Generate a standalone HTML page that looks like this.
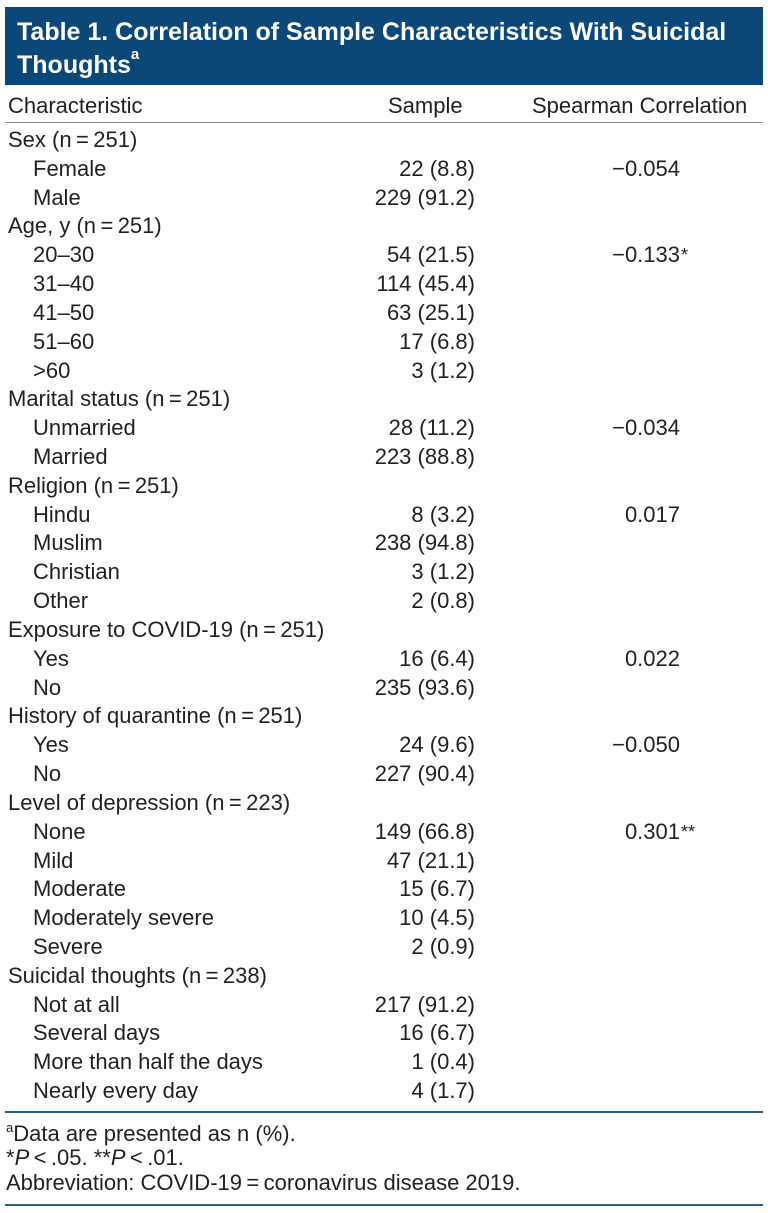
<!DOCTYPE html>
<html><head><meta charset="utf-8"><style>
body{margin:0;width:768px;height:1213px;background:#fff;position:relative;overflow:hidden;font-family:"Liberation Sans Narrow","Liberation Sans",sans-serif;color:#231f20;}
#hdr{position:absolute;left:5px;top:7px;width:758px;height:78px;background:#0b4877;}
#title{position:absolute;left:12px;top:9px;color:#fff;font-weight:bold;font-size:25px;line-height:33px;}
#title sup{font-size:15px;line-height:0;vertical-align:top;position:relative;top:6px}
.t{position:absolute;font-size:22px;line-height:24px;white-space:nowrap;}
.line{position:absolute;left:5px;width:758px;}
.fa{font-size:13px;line-height:0;vertical-align:baseline;position:relative;top:-9px}
</style></head><body>
<div id="hdr"><div id="title">Table 1. Correlation of Sample Characteristics With Suicidal<br>Thoughts<sup>a</sup></div></div>
<div class="t" style="left:8px;top:94px">Characteristic</div>
<div class="t" style="left:388px;top:94px">Sample</div>
<div class="t" style="left:532px;top:94px">Spearman Correlation</div>
<div class="line" style="top:122px;height:1px;background:#888"></div>
<div id="rows"></div>
<div class="line" style="top:1111px;height:2px;background:#2b5f8c"></div>
<div class="t" style="left:6px;top:1122px"><span class="fa">a</span>Data are presented as n (%).</div>
<div class="t" style="left:6px;top:1146px">*<i>P</i>&thinsp;&lt;&thinsp;.05. **<i>P</i>&thinsp;&lt;&thinsp;.01.</div>
<div class="t" style="left:6px;top:1171px">Abbreviation: COVID-19&thinsp;=&thinsp;coronavirus disease 2019.</div>
<div class="line" style="top:1204px;height:2px;background:#2b5f8c"></div>
<script>
const labels=["Sex (n\u2009=\u2009251)","Female","Male","Age, y (n\u2009=\u2009251)","20\u201330","31\u201340","41\u201350","51\u201360",">60","Marital status (n\u2009=\u2009251)","Unmarried","Married","Religion (n\u2009=\u2009251)","Hindu","Muslim","Christian","Other","Exposure to COVID-19 (n\u2009=\u2009251)","Yes","No","History of quarantine (n\u2009=\u2009251)","Yes","No","Level of depression (n\u2009=\u2009223)","None","Mild","Moderate","Moderately severe","Severe","Suicidal thoughts (n\u2009=\u2009238)","Not at all","Several days","More than half the days","Nearly every day"];
const samples=["","22 (8.8)","229 (91.2)","","54 (21.5)","114 (45.4)","63 (25.1)","17 (6.8)","3 (1.2)","","28 (11.2)","223 (88.8)","","8 (3.2)","238 (94.8)","3 (1.2)","2 (0.8)","","16 (6.4)","235 (93.6)","","24 (9.6)","227 (90.4)","","149 (66.8)","47 (21.1)","15 (6.7)","10 (4.5)","2 (0.9)","","217 (91.2)","16 (6.7)","1 (0.4)","4 (1.7)"];
const corrs=["","\u22120.054","","","\u22120.133","","","","","","\u22120.034","","","0.017","","","","","0.022","","","\u22120.050","","","0.301","","","","","","","","",""];
const stars=["","","","","*","","","","","","","","","","","","","","","","","","","","**","","","","","","","","",""];
const root=document.getElementById('rows');
labels.forEach((lab,i)=>{
  const top=128+i*28.82;
  const a=document.createElement('div');a.className='t';
  a.style.left=(lab.includes('(n')?8:33)+'px';
  a.style.top=top+'px';a.textContent=lab;
  
  
  root.appendChild(a);
  if(samples[i]){const s=document.createElement('div');s.className='t';s.style.right=(768-475)+'px';s.style.top=top+'px';s.textContent=samples[i];
  
  
  root.appendChild(s);}
  if(corrs[i]){const c=document.createElement('div');c.className='t';c.style.left='0';c.style.width='680px';c.style.textAlign='right';c.style.top=top+'px';
  c.innerHTML=corrs[i]+'<span style="position:absolute;left:681px;font-size:18px">'+stars[i]+'</span>';
  
  
  root.appendChild(c);}
});
</script>
</body></html>
